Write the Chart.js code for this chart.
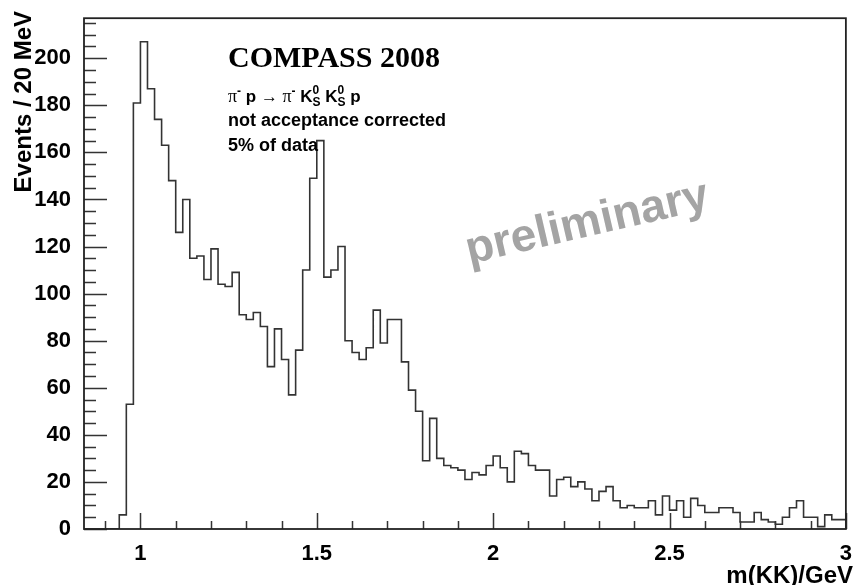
<!DOCTYPE html>
<html>
<head>
<meta charset="utf-8">
<script src="https://cdn.jsdelivr.net/npm/chart.js@4.4.0/dist/chart.umd.min.js"></script>
<style>
  html, body { margin: 0; padding: 0; background: #fff; }
  #wrap { width: 856px; height: 585px; }
</style>
</head>
<body>
<div id="wrap"><canvas id="c"></canvas></div>
<script>
// m(KK) histogram, 20 MeV bins starting at 0.84 GeV
const binWidth = 0.02;
const firstBinLow = 0.84;
const counts = [
  0, 0, 0, 0, 0, 0, 6, 53,                       // 0.84 - 0.98
  181, 207, 187, 174, 163, 148, 126, 140, 115, 116, // 1.00 - 1.18
  106, 119, 104, 103, 109, 91, 89, 92, 86, 69,      // 1.20 - 1.38
  85, 72, 57, 76, 110, 149, 165, 107, 110, 120,     // 1.40 - 1.58
  80, 75, 72, 77, 93, 79, 89, 89, 71, 59,           // 1.60 - 1.78
  50, 29, 47, 30, 27, 26, 25, 21, 24, 23,           // 1.80 - 1.98
  27, 31, 26, 20, 33, 32, 27, 25, 25, 14,           // 2.00 - 2.18
  21, 22, 18, 20, 17, 12, 16, 18, 12, 9,            // 2.20 - 2.38
  10, 9, 9, 12, 6, 14, 8, 12, 5, 13,                // 2.40 - 2.58
  10, 7, 7, 9, 9, 7, 3, 3, 7, 4,                    // 2.60 - 2.78
  3, 2, 5, 9, 12, 5, 5, 1, 6, 4                     // 2.80 - 2.98
];

const xMin = 0.84, xMax = 3.0;
const yMin = 0, yMax = 217;
const xTickValues = [1, 1.5, 2, 2.5, 3];
const xTickLabels = ['1', '1.5', '2', '2.5', '3'];
const yTickValues = [0, 20, 40, 60, 80, 100, 120, 140, 160, 180, 200];
const yTickLabels = ['0', '20', '40', '60', '80', '100', '120', '140', '160', '180', '200'];

const titleText = 'COMPASS 2008';
const noteLines = ['not acceptance corrected', '5% of data'];
const watermarkText = 'preliminary';
const xTitle = 'm(KK)/GeV';
const yTitle = 'Events / 20 MeV';

// step points at each bin's low edge, closed at the upper edge of the last bin
const points = counts.map((v, i) => ({ x: +(firstBinLow + i * binWidth).toFixed(2), y: v }));
points.push({ x: +(firstBinLow + counts.length * binWidth).toFixed(2), y: counts[counts.length - 1] });

const SANS = '"Liberation Sans", Arial, Helvetica, sans-serif';
const SERIF = '"Liberation Serif", "Times New Roman", serif';

const framePlugin = {
  id: 'frameAndText',
  afterDraw(chart) {
    const ctx = chart.ctx;
    const a = chart.chartArea;
    const xs = chart.scales.x, ys = chart.scales.y;
    ctx.save();

    // inward tick marks
    ctx.strokeStyle = '#333';
    ctx.lineWidth = 1.5;
    ctx.beginPath();
    for (let i = 9; i <= 30; i++) {
      const v = i / 10;
      const px = Math.round(xs.getPixelForValue(v)) + 0.5;
      const len = (i % 5 === 0) ? 16 : 8;
      ctx.moveTo(px, a.bottom);
      ctx.lineTo(px, a.bottom - len);
    }
    for (let v = 0; v <= 215; v += 5) {
      const py = Math.round(ys.getPixelForValue(v)) + 0.5;
      const len = (v % 20 === 0) ? 23 : 12;
      ctx.moveTo(a.left, py);
      ctx.lineTo(a.left + len, py);
    }
    ctx.stroke();

    // frame
    ctx.strokeStyle = '#222';
    ctx.lineWidth = 1.8;
    ctx.strokeRect(a.left, a.top, a.right - a.left, a.bottom - a.top);

    // axis titles
    ctx.fillStyle = '#000';
    ctx.font = 'bold 24px ' + SANS;
    ctx.textAlign = 'right';
    ctx.textBaseline = 'alphabetic';
    ctx.fillText(xTitle, 853, 583);
    ctx.save();
    ctx.translate(31, 11);
    ctx.rotate(-Math.PI / 2);
    ctx.fillText(yTitle, 0, 0);
    ctx.restore();

    // experiment label
    ctx.textAlign = 'left';
    ctx.font = 'bold 30px ' + SERIF;
    ctx.fillText(titleText, 228, 67);

    // reaction: pi- p -> pi- K0S K0S p
    const main = 'bold 17px ' + SANS;
    const small = 'bold 12px ' + SANS;
    const runs = [
      { t: 'π', f: '18px ' + SERIF },
      { t: '-', f: small, dy: -7 },
      { t: ' p ', f: main },
      { t: '→', f: '17px ' + SANS },
      { t: ' π', f: '18px ' + SERIF },
      { t: '-', f: small, dy: -7 },
      { t: ' K', f: main },
      { t: '0', f: small, dy: -8, stack: true },
      { t: 'S', f: small, dy: 4 },
      { t: ' K', f: main },
      { t: '0', f: small, dy: -8, stack: true },
      { t: 'S', f: small, dy: 4 },
      { t: ' p', f: main }
    ];
    let x = 228;
    const y0 = 102;
    for (const r of runs) {
      ctx.font = r.f;
      ctx.fillText(r.t, x, y0 + (r.dy || 0));
      if (!r.stack) x += ctx.measureText(r.t).width;
    }

    ctx.font = 'bold 18px ' + SANS;
    ctx.fillText(noteLines[0], 228, 126);
    ctx.fillText(noteLines[1], 228, 151);

    // watermark
    ctx.save();
    ctx.translate(590, 236);
    ctx.rotate(-13 * Math.PI / 180);
    ctx.font = 'bold 46px ' + SANS;
    ctx.fillStyle = '#a4a4a4';
    ctx.textAlign = 'center';
    ctx.fillText(watermarkText, 0, 0);
    ctx.restore();

    ctx.restore();
  }
};

new Chart(document.getElementById('c'), {
  type: 'line',
  data: {
    datasets: [{
      data: points,
      stepped: 'after',
      borderColor: '#333',
      borderWidth: 1.6,
      pointRadius: 0,
      fill: false,
      tension: 0
    }]
  },
  options: {
    responsive: true,
    maintainAspectRatio: false,
    animation: false,
    devicePixelRatio: 1,
    layout: { padding: { top: 9, right: 4, left: 0, bottom: 0 } },
    plugins: { legend: { display: false }, tooltip: { enabled: false } },
    scales: {
      x: {
        type: 'linear',
        min: xMin, max: xMax,
        grid: { display: false },
        border: { display: false },
        afterBuildTicks(scale) { scale.ticks = xTickValues.map(v => ({ value: v })); },
        afterFit(scale) { scale.height = 56; },
        ticks: {
          autoSkip: false,
          maxRotation: 0,
          padding: 4,
          color: '#000',
          font: { family: SANS, weight: 'bold', size: 22 },
          callback(value) { const i = xTickValues.indexOf(value); return i >= 0 ? xTickLabels[i] : ''; }
        }
      },
      y: {
        type: 'linear',
        min: yMin, max: yMax,
        grid: { display: false },
        border: { display: false },
        afterBuildTicks(scale) { scale.ticks = yTickValues.map(v => ({ value: v })); },
        afterFit(scale) { scale.width = 84; },
        ticks: {
          autoSkip: false,
          padding: 5,
          color: '#000',
          font: { family: SANS, weight: 'bold', size: 22 },
          callback(value) { const i = yTickValues.indexOf(value); return i >= 0 ? yTickLabels[i] : ''; }
        }
      }
    }
  },
  plugins: [framePlugin]
});
</script>
</body>
</html>
